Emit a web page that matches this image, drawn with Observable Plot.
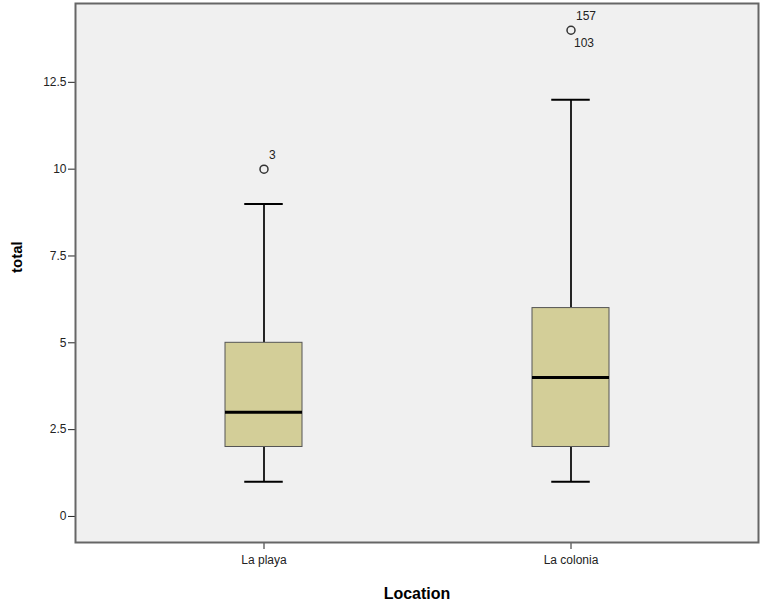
<!DOCTYPE html>
<html>
<head>
<meta charset="utf-8">
<script src="https://cdn.jsdelivr.net/npm/d3@7"></script>
<script src="https://cdn.jsdelivr.net/npm/@observablehq/plot@0.6"></script>
<style>
  html, body { margin: 0; padding: 0; background: #ffffff; }
  #chart svg { display: block; }
</style>
</head>
<body>
<div id="chart"></div>
<script>
// Data
const locations = ["La playa", "La colonia"];
const whiskerLow = [1, 1];
const q1 = [2, 2];
const medians = [3, 4];
const q3 = [5, 6];
const whiskerHigh = [9, 12];

const outlierLocation = ["La playa", "La colonia"];
const outlierValue = [10, 14];

// case labels of outliers
const upperLabelLocation = ["La playa", "La colonia"];
const upperLabelValue = [10, 14];
const upperLabelText = ["3", "157"];
const lowerLabelLocation = ["La colonia"];
const lowerLabelValue = [14];
const lowerLabelText = ["103"];

const yTicks = [0, 2.5, 5, 7.5, 10, 12.5];

const boxes = locations.map((loc, i) => ({
  loc, lo: whiskerLow[i], q1: q1[i], med: medians[i], q3: q3[i], hi: whiskerHigh[i]
}));
const outliers = outlierLocation.map((loc, i) => ({loc, v: outlierValue[i]}));
const upperLabels = upperLabelLocation.map((loc, i) => ({loc, v: upperLabelValue[i], t: upperLabelText[i]}));
const lowerLabels = lowerLabelLocation.map((loc, i) => ({loc, v: lowerLabelValue[i], t: lowerLabelText[i]}));

const font = "'Liberation Sans', Arial, sans-serif";

const chart = Plot.plot({
  width: 760,
  height: 609,
  marginLeft: 75,
  marginRight: 2,
  marginTop: 3,
  marginBottom: 67,
  style: {fontFamily: font, background: "#ffffff"},
  x: {type: "band", domain: locations, paddingInner: 0.75, paddingOuter: 0.484, axis: null},
  y: {domain: [-0.75, 14.77], axis: null},
  marks: [
    Plot.frame({fill: "#f0f0f0", stroke: null}),
    // whiskers
    Plot.ruleX(boxes, {x: "loc", y1: "lo", y2: "q1", stroke: "#000", strokeWidth: 1.7}),
    Plot.ruleX(boxes, {x: "loc", y1: "q3", y2: "hi", stroke: "#000", strokeWidth: 1.7}),
    // whisker caps
    Plot.tickY(boxes, {x: "loc", y: "lo", stroke: "#000", strokeWidth: 2, insetLeft: 19.25, insetRight: 19.25}),
    Plot.tickY(boxes, {x: "loc", y: "hi", stroke: "#000", strokeWidth: 2, insetLeft: 19.25, insetRight: 19.25}),
    // boxes
    Plot.barY(boxes, {x: "loc", y1: "q1", y2: "q3", fill: "#d3ce98", stroke: "#555", strokeWidth: 1}),
    // medians
    Plot.tickY(boxes, {x: "loc", y: "med", stroke: "#000", strokeWidth: 3}),
    // outliers
    Plot.dot(outliers, {x: "loc", y: "v", r: 4, stroke: "#333", strokeWidth: 1.5, fill: "none"}),
    Plot.text(upperLabels, {x: "loc", y: "v", text: "t", dx: 5, dy: -14, textAnchor: "start", fontSize: 12, fill: "#222"}),
    Plot.text(lowerLabels, {x: "loc", y: "v", text: "t", dx: 3, dy: 13, textAnchor: "start", fontSize: 12, fill: "#222"}),
    // axes
    Plot.axisY({ticks: yTicks, tickSize: 7, tickPadding: 2, tickFormat: d => String(d), fontSize: 12, label: null, color: "#222"}),
    Plot.axisX({tickSize: 7, tickPadding: 6, fontSize: 12, label: null, color: "#222"}),
    // axis titles
    Plot.text(["total"], {frameAnchor: "left", dx: -58, rotate: -90, fontSize: 15, fontWeight: "bold", fill: "#000"}),
    Plot.text(["Location"], {frameAnchor: "bottom", dy: 56, fontSize: 16, fontWeight: "bold", fill: "#000"}),
    // frame border
    Plot.frame({stroke: "#666", strokeWidth: 2})
  ]
});

document.getElementById("chart").appendChild(chart);
</script>
</body>
</html>
